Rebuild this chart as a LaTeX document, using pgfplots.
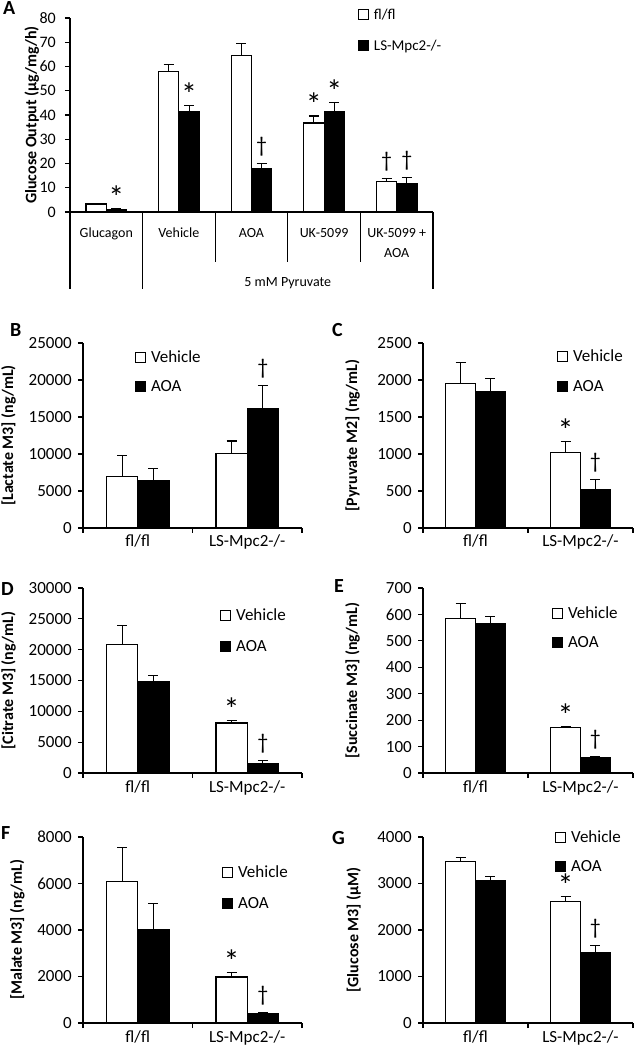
\documentclass[border=0pt]{standalone}
\usepackage{fontspec}
\setmainfont{Carlito}
\usepackage{pgfplots}
\usepackage{pgfplotstable}
\usetikzlibrary{calc}
\pgfplotsset{compat=1.18}
\newcommand{\fs}[1]{\fontsize{#1bp}{#1bp}\selectfont}

% ---------------- data ----------------
% Panel A
\pgfplotstableread{
x y e
-0.14 3.3 0.2
0.86 58.1 2.6
1.86 64.7 4.6
2.86 36.7 2.9
3.86 12.4 1.3
}\tabAfl
\pgfplotstableread{
x y e
0.14 1.1 0.3
1.14 41.5 2.3
2.14 18.1 1.9
3.14 41.5 3.6
4.14 11.9 2.2
}\tabAls
% Panel B (Lactate)
\pgfplotstableread{
x y e
-0.1425 6950 2900
0.8575 10050 1700
}\tabBv
\pgfplotstableread{
x y e
0.1425 6450 1550
1.1425 16200 3080
}\tabBa
% Panel C (Pyruvate)
\pgfplotstableread{
x y e
-0.1425 1950 290
0.8575 1025 145
}\tabCv
\pgfplotstableread{
x y e
0.1425 1845 180
1.1425 525 130
}\tabCa
% Panel D (Citrate)
\pgfplotstableread{
x y e
-0.1425 20900 3000
0.8575 8100 450
}\tabDv
\pgfplotstableread{
x y e
0.1425 14800 1000
1.1425 1600 400
}\tabDa
% Panel E (Succinate)
\pgfplotstableread{
x y e
-0.1425 584 57
0.8575 171 4
}\tabEv
\pgfplotstableread{
x y e
0.1425 567 24
1.1425 60 3
}\tabEa
% Panel F (Malate)
\pgfplotstableread{
x y e
-0.1425 6100 1450
0.8575 1980 200
}\tabFv
\pgfplotstableread{
x y e
0.1425 4040 1100
1.1425 400 40
}\tabFa
% Panel G (Glucose)
\pgfplotstableread{
x y e
-0.1425 3470 95
0.8575 2610 105
}\tabGv
\pgfplotstableread{
x y e
0.1425 3060 100
1.1425 1510 150
}\tabGa

\tikzset{
  ast/.style={anchor=base, yshift=0bp, inner sep=0pt, font=\fs{32}},
  dag/.style={anchor=base, yshift=11bp, inner sep=0pt, font=\fs{22}},
}

\pgfplotsset{
  common/.style={
    scale only axis,
    axis lines*=left,
    axis line style={line width=1.2bp, black},
    ymin=0,
    clip=false,
    scaled y ticks=false,
    /pgf/number format/assume math mode=true,
    /pgf/number format/1000 sep={},
    tick style={line width=1.1bp, black},
    tick align=outside,
    major tick length=5bp,
    yticklabel style={inner sep=0pt, xshift=-6bp, font=\fs{17}},
    legend image code/.code={\draw[##1] (0bp,-5bp) rectangle (10bp,5bp);},
    legend style={draw=none, fill=none, inner sep=0pt, outer sep=0pt,
      column sep=5bp,
      nodes={inner sep=0pt, text height=10bp, text depth=0bp, font=\fs{17}}},
    legend cell align=left,
  },
  small/.style={
    common,
    xmin=-0.5, xmax=1.5,
    xtick={-0.5,0.5,1.5},
    x tick label as interval,
    xticklabels={fl/fl, LS-Mpc2-/-},
    xticklabel style={font=\fs{17}, inner sep=0pt, yshift=-2bp},
    ylabel style={font=\bfseries\fs{16}, anchor=center},
  },
  errs/.style={
    error bars/y dir=plus, error bars/y explicit,
    error bars/error bar style={line width=1.1bp, black},
    error bars/error mark options={rotate=90, mark size=5bp, line width=1.1bp, black}},
  vbar/.style={forget plot, ybar, bar width=0.285, bar shift=0pt, fill=white, draw=black, line width=1.1bp, errs},
  abar/.style={forget plot, ybar, bar width=0.285, bar shift=0pt, fill=black, draw=black, line width=1.1bp, errs},
}

\begin{document}
\begin{tikzpicture}
\useasboundingbox (0bp,0bp) rectangle (634bp,1050bp);

% ---------------- Panel A ----------------
\begin{axis}[common,
  at={(70bp,838bp)}, anchor=south west,
  width=363bp, height=194bp,
  xmin=-0.5, xmax=4.5, ymax=80,
  ytick={0,10,...,80},
  yticklabel style={xshift=-3bp, font=\fs{16}},
  xtick={0,1,2,3,4},
  xtick style={draw=none},
  xticklabels={Glucagon, Vehicle, AOA, UK-5099, {UK-5099 +\\AOA}},
  xticklabel style={font=\fontsize{14bp}{20bp}\selectfont, align=center, anchor=north, inner sep=0pt, yshift=-11bp},
  ylabel={Glucose Output (µg/mg/h)},
  ylabel style={font=\bfseries\fs{16}, anchor=center, at={(axis description cs:-0.105,0.5)}},
  legend style={at={(axis description cs:0.793,0.938)}, anchor=west, row sep=20bp, nodes={font=\fs{15}}},
]
\addplot[vbar, bar width=0.28] table[x=x, y=y, y error=e] {\tabAfl};
\addplot[abar, bar width=0.28] table[x=x, y=y, y error=e] {\tabAls};
\addlegendimage{fill=white, draw=black, line width=1.1bp}
\addlegendentry{fl/fl}
\addlegendimage{fill=black, draw=black, line width=1.1bp}
\addlegendentry{LS-Mpc2-/-}
\draw[line width=1.1bp] (axis cs:-0.5,0) -- ++(0bp,-77bp);
\draw[line width=1.1bp] (axis cs:0.5,0) -- ++(0bp,-77bp);
\draw[line width=1.1bp] (axis cs:4.5,0) -- ++(0bp,-77bp);
\draw[line width=1.1bp] (axis cs:1.5,0) -- ++(0bp,-50bp);
\draw[line width=1.1bp] (axis cs:2.5,0) -- ++(0bp,-50bp);
\draw[line width=1.1bp] (axis cs:3.5,0) -- ++(0bp,-50bp);
\node[font=\fs{14}, anchor=center] at ($(axis cs:2.5,0)+(0bp,-71bp)$) {5 mM Pyruvate};
\node[ast] at (axis cs:0.14,1.4) {*};
\node[ast] at (axis cs:1.14,43.8) {*};
\node[dag] at (axis cs:2.14,20.0) {†};
\node[ast] at (axis cs:2.86,39.6) {*};
\node[ast] at (axis cs:3.14,45.1) {*};
\node[dag] at (axis cs:3.86,13.7) {†};
\node[dag] at (axis cs:4.14,14.1) {†};
\end{axis}

% ---------------- Panel B ----------------
\begin{axis}[small,
  at={(83bp,522bp)}, anchor=south west,
  width=219bp, height=185bp,
  ymax=25000, ytick={0,5000,...,25000},
  ylabel={[Lactate M3] (ng/mL)},
  ylabel style={at={(axis description cs:-0.34,0.5)}},
  legend style={at={(axis description cs:0.237,0.843)}, anchor=west, row sep=18.5bp},
]
\addplot[vbar] table[x=x, y=y, y error=e] {\tabBv};
\addplot[abar] table[x=x, y=y, y error=e] {\tabBa};
\addlegendimage{fill=white, draw=black, line width=1.1bp}
\addlegendentry{Vehicle}
\addlegendimage{fill=black, draw=black, line width=1.1bp}
\addlegendentry{AOA}
\node[dag] at (axis cs:1.1425,19280) {†};
\end{axis}

% ---------------- Panel C ----------------
\begin{axis}[small,
  at={(423bp,522bp)}, anchor=south west,
  width=210bp, height=185bp,
  ymax=2500, ytick={0,500,...,2500},
  ylabel={[Pyruvate M2] (ng/mL)},
  ylabel style={at={(axis description cs:-0.335,0.5)}},
  legend style={at={(axis description cs:0.638,0.846)}, anchor=west, row sep=19bp},
]
\addplot[vbar] table[x=x, y=y, y error=e] {\tabCv};
\addplot[abar] table[x=x, y=y, y error=e] {\tabCa};
\addlegendimage{fill=white, draw=black, line width=1.1bp}
\addlegendentry{Vehicle}
\addlegendimage{fill=black, draw=black, line width=1.1bp}
\addlegendentry{AOA}
\node[ast] at (axis cs:0.8575,1170) {*};
\node[dag] at (axis cs:1.1425,655) {†};
\end{axis}

% ---------------- Panel D ----------------
\begin{axis}[small,
  at={(83bp,277bp)}, anchor=south west,
  width=219bp, height=185bp,
  ymax=30000, ytick={0,5000,...,30000},
  ylabel={[Citrate M3] (ng/mL)},
  ylabel style={at={(axis description cs:-0.34,0.5)}},
  legend style={at={(axis description cs:0.626,0.768)}, anchor=west, row sep=20bp},
]
\addplot[vbar] table[x=x, y=y, y error=e] {\tabDv};
\addplot[abar] table[x=x, y=y, y error=e] {\tabDa};
\addlegendimage{fill=white, draw=black, line width=1.1bp}
\addlegendentry{Vehicle}
\addlegendimage{fill=black, draw=black, line width=1.1bp}
\addlegendentry{AOA}
\node[ast] at (axis cs:0.8575,8550) {*};
\node[dag] at (axis cs:1.1425,2000) {†};
\end{axis}

% ---------------- Panel E ----------------
\begin{axis}[small,
  at={(423bp,277bp)}, anchor=south west,
  width=210bp, height=185bp,
  ymax=700, ytick={0,100,...,700},
  ylabel={[Succinate M3] (ng/mL)},
  ylabel style={at={(axis description cs:-0.335,0.5)}},
  legend style={at={(axis description cs:0.614,0.784)}, anchor=west, row sep=18bp},
]
\addplot[vbar] table[x=x, y=y, y error=e] {\tabEv};
\addplot[abar] table[x=x, y=y, y error=e] {\tabEa};
\addlegendimage{fill=white, draw=black, line width=1.1bp}
\addlegendentry{Vehicle}
\addlegendimage{fill=black, draw=black, line width=1.1bp}
\addlegendentry{AOA}
\node[ast] at (axis cs:0.8575,175) {*};
\node[dag] at (axis cs:1.1425,63) {†};
\end{axis}

% ---------------- Panel F ----------------
\begin{axis}[small,
  at={(83bp,27bp)}, anchor=south west,
  width=219bp, height=186bp,
  ymax=8000, ytick={0,2000,...,8000},
  ylabel={[Malate M3] (ng/mL)},
  ylabel style={at={(axis description cs:-0.30,0.5)}},
  legend style={at={(axis description cs:0.635,0.726)}, anchor=west, row sep=20bp},
]
\addplot[vbar] table[x=x, y=y, y error=e] {\tabFv};
\addplot[abar] table[x=x, y=y, y error=e] {\tabFa};
\addlegendimage{fill=white, draw=black, line width=1.1bp}
\addlegendentry{Vehicle}
\addlegendimage{fill=black, draw=black, line width=1.1bp}
\addlegendentry{AOA}
\node[ast] at (axis cs:0.8575,2180) {*};
\node[dag] at (axis cs:1.1425,440) {†};
\end{axis}

% ---------------- Panel G ----------------
\begin{axis}[small,
  at={(423bp,27bp)}, anchor=south west,
  width=210bp, height=186bp,
  ymax=4000, ytick={0,1000,...,4000},
  ylabel={[Glucose M3] (µM)},
  ylabel style={at={(axis description cs:-0.33,0.5)}},
  legend style={at={(axis description cs:0.629,0.919)}, anchor=west, row sep=18bp},
]
\addplot[vbar] table[x=x, y=y, y error=e] {\tabGv};
\addplot[abar] table[x=x, y=y, y error=e] {\tabGa};
\addlegendimage{fill=white, draw=black, line width=1.1bp}
\addlegendentry{Vehicle}
\addlegendimage{fill=black, draw=black, line width=1.1bp}
\addlegendentry{AOA}
\node[ast] at (axis cs:0.8575,2715) {*};
\node[dag] at (axis cs:1.1425,1660) {†};
\end{axis}

% panel letters
\node[anchor=base west, inner sep=0pt, font=\bfseries\fs{20}] at (3bp,1035bp) {A};
\node[anchor=base west, inner sep=0pt, font=\bfseries\fs{20}] at (10bp,713bp) {B};
\node[anchor=base west, inner sep=0pt, font=\bfseries\fs{20}] at (332bp,713bp) {C};
\node[anchor=base west, inner sep=0pt, font=\bfseries\fs{20}] at (1bp,454bp) {D};
\node[anchor=base west, inner sep=0pt, font=\bfseries\fs{20}] at (334bp,457bp) {E};
\node[anchor=base west, inner sep=0pt, font=\bfseries\fs{20}] at (1bp,210bp) {F};
\node[anchor=base west, inner sep=0pt, font=\bfseries\fs{20}] at (332bp,205bp) {G};
\end{tikzpicture}
\end{document}
